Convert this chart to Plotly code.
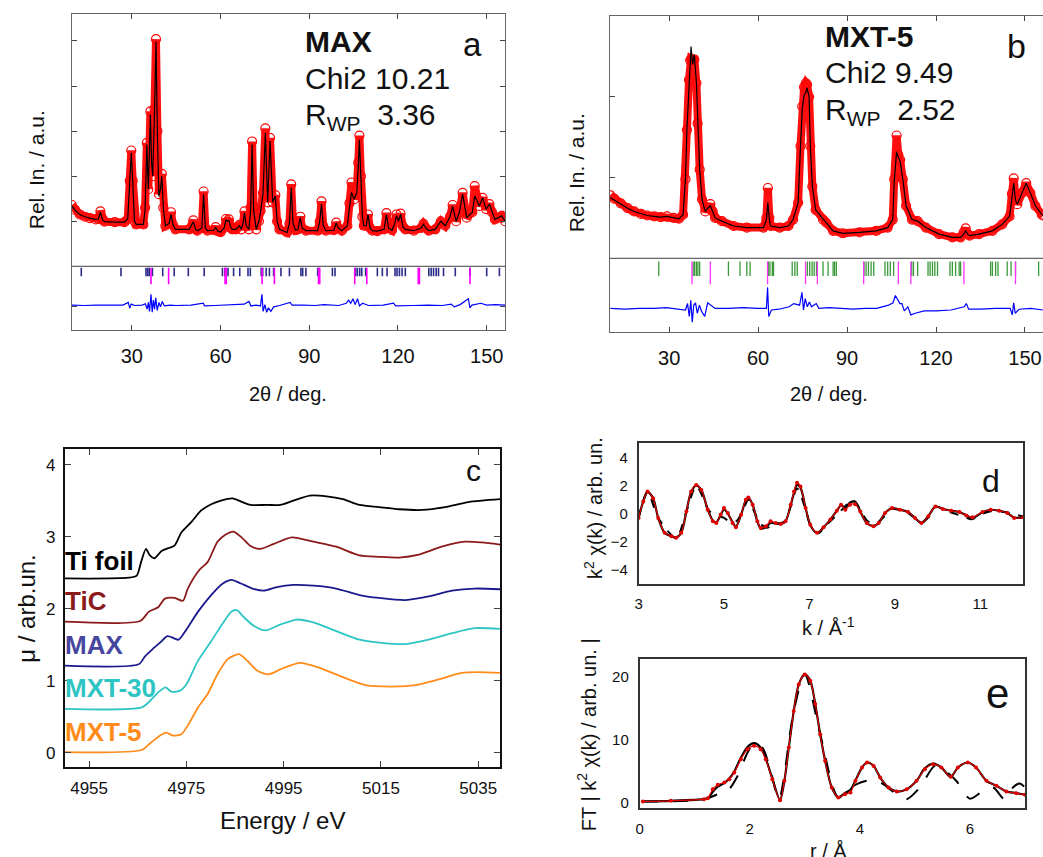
import plotly.graph_objects as go

W, H = 1043, 857
FONT = "Arial, 'Liberation Sans', sans-serif"

# ---------------- Panel a: MAX XRD ----------------
a_2theta = [9.75, 10.84, 12.43, 14.12, 15.81, 17.8, 18.69, 19.39, 20.09, 20.78, 24.26, 27.54, 28.63,
            29.33, 29.83, 30.32, 30.92, 31.52, 33.9, 34.5, 35.09, 35.59, 36.29, 36.69, 37.08, 37.68,
            38.18, 38.67, 39.17, 39.67, 40.16, 40.66, 41.36, 42.65, 43.25, 43.94, 44.74, 49.41, 50.8,
            51.6, 52.19, 53.68, 54.28, 54.88, 55.57, 57.66, 58.35, 59.05, 60.04, 61.24, 61.83, 62.33,
            62.83, 63.52, 64.02, 65.21, 65.81, 66.41, 67.0, 67.6, 68.1, 68.69, 69.59, 70.18, 70.68,
            71.18, 72.07, 72.97, 73.56, 74.36, 75.15, 75.95, 76.74, 77.64, 78.53, 79.13, 79.92, 82.51,
            83.3, 83.9, 84.5, 85.39, 86.19, 86.98, 87.58, 88.87, 92.85, 93.54, 94.14, 94.73, 95.63,
            98.31, 99.11, 99.9, 101.0, 102.89, 103.58, 104.28, 105.17, 106.07, 106.56, 106.96, 107.46,
            107.95, 108.45, 109.25, 109.84, 110.54, 111.33, 113.02, 115.31, 116.1, 116.8, 117.99,
            118.88, 119.48, 120.18, 120.88, 121.67, 122.47, 125.35, 127.83, 128.63, 129.43, 130.42,
            132.6, 134.49, 135.99, 137.58, 138.47, 139.66, 140.76, 141.85, 143.24, 145.13, 145.93,
            146.72, 147.52, 148.61, 149.8, 150.9, 151.79, 152.78, 153.98, 155.08, 156.2]
a_obs = [1.36, 1.25, 1.15, 1.10, 1.07, 1.04, 1.05, 1.22, 1.04, 0.99, 0.98, 0.98, 1.05,
         1.90, 2.57, 1.90, 1.00, 0.93, 0.93, 1.30, 2.74, 1.71, 3.44, 2.30, 2.00, 3.50,
         5.04, 3.00, 1.60, 1.70, 2.05, 1.30, 0.90, 0.95, 1.20, 0.92, 0.82, 0.82, 1.02,
         0.82, 0.79, 0.85, 1.66, 0.85, 0.79, 0.80, 0.87, 0.78, 0.76, 0.85, 1.05, 1.00,
         1.04, 0.85, 0.82, 0.82, 0.88, 0.92, 0.82, 0.95, 1.22, 0.90, 0.82, 1.30, 2.77,
         1.30, 0.82, 1.00, 1.23, 1.63, 3.06, 1.42, 2.85, 1.42, 1.58, 1.00, 0.82, 0.75,
         0.95, 1.82, 0.95, 0.80, 0.82, 1.10, 0.85, 0.79, 0.79, 1.00, 1.44, 0.90, 0.79,
         0.80, 0.97, 0.85, 0.79, 0.90, 1.40, 1.86, 1.49, 1.70, 2.30, 2.90, 2.00,
         1.10, 0.90, 0.90, 1.15, 0.85, 0.79, 0.78, 0.82, 1.18, 0.85, 0.80,
         0.95, 1.15, 1.00, 1.17, 0.88, 0.82, 0.79, 0.85, 0.94, 0.85, 0.79,
         0.82, 1.00, 0.90, 1.10, 1.36, 1.00, 1.20, 1.63, 1.08, 1.20, 1.78,
         1.50, 1.34, 1.52, 1.27, 1.38, 1.20, 1.04, 1.08, 1.12, 1.00]
a_calc = [1.34, 1.24, 1.15, 1.10, 1.07, 1.04, 1.05, 1.20, 1.04, 0.99, 0.98, 0.98, 1.05,
          1.85, 2.52, 1.85, 1.00, 0.93, 0.93, 1.25, 2.70, 1.71, 3.37, 2.30, 2.00, 3.40,
          4.99, 2.90, 1.55, 1.70, 2.00, 1.30, 0.90, 0.95, 1.15, 0.92, 0.82, 0.82, 0.99,
          0.82, 0.79, 0.85, 1.60, 0.85, 0.79, 0.80, 0.86, 0.78, 0.76, 0.85, 1.03, 1.00,
          1.02, 0.85, 0.82, 0.82, 0.87, 0.90, 0.82, 0.95, 1.19, 0.90, 0.82, 1.25, 2.70,
          1.25, 0.82, 1.00, 1.23, 1.60, 2.96, 1.42, 2.78, 1.42, 1.56, 1.00, 0.82, 0.75,
          0.95, 1.74, 0.95, 0.80, 0.82, 1.08, 0.85, 0.79, 0.79, 1.00, 1.38, 0.90, 0.79,
          0.80, 0.96, 0.85, 0.79, 0.90, 1.30, 1.64, 1.49, 1.63, 2.20, 2.81, 1.95,
          1.10, 0.90, 0.90, 1.15, 0.85, 0.79, 0.78, 0.82, 1.15, 0.85, 0.80,
          0.95, 1.12, 1.00, 1.15, 0.88, 0.82, 0.79, 0.85, 0.93, 0.85, 0.79,
          0.82, 1.00, 0.90, 1.10, 1.33, 1.00, 1.20, 1.60, 1.08, 1.20, 1.56,
          1.45, 1.34, 1.52, 1.27, 1.38, 1.20, 1.04, 1.08, 1.12, 1.00]
a_diff_2theta = [9.75, 14, 18, 24, 27, 28.8, 29.3, 29.8, 31, 33.5, 34.6, 35.2, 35.6, 36.0, 36.5, 36.9,
                 37.3, 37.7, 38.1, 38.6, 39.2, 39.7, 40.3, 41, 43, 45, 50, 54.2, 54.6, 58, 62, 65, 68,
                 69.6, 70.3, 72, 73.5, 74.0, 74.4, 75, 75.6, 76.2, 77, 78, 80, 83.5, 84.2, 88, 92, 95,
                 100, 102.5, 103.3, 104, 104.8, 105.5, 106.3, 107, 108, 110, 115, 118.5, 119.2, 125,
                 130, 135, 138, 139, 141, 143.8, 144.3, 145, 148, 150, 153, 156.2]
a_diff = [-0.86, -0.87, -0.86, -0.87, -0.86, -0.80, -0.93, -0.84, -0.87, -0.86, -0.83, -0.95, -0.80,
          -1.00, -0.62, -1.02, -0.75, -0.95, -0.70, -0.98, -0.80, -0.90, -0.78, -0.88, -0.86, -0.87,
          -0.86, -0.82, -0.88, -0.87, -0.86, -0.85, -0.84, -0.78, -0.88, -0.86, -0.88, -0.62, -1.00,
          -0.85, -1.02, -0.92, -1.00, -0.90, -0.87, -0.80, -0.86, -0.86, -0.87, -0.85, -0.87, -0.82,
          -0.75, -0.82, -0.72, -0.85, -0.72, -0.88, -0.82, -0.87, -0.86, -0.82, -0.88, -0.87, -0.86,
          -0.87, -0.84, -0.90, -0.85, -0.72, -0.92, -0.86, -0.82, -0.86, -0.85, -0.86]
a_refl_max = [12.93, 26.35, 34.8, 35.39, 35.89, 36.98, 40.46, 44.34, 49.11, 54.48, 60.64, 61.44, 62.53,
              64.42, 66.5, 69.29, 70.08, 73.76, 74.26, 75.45, 76.54, 77.94, 80.42, 83.3, 87.18, 87.78,
              88.87, 92.85, 93.34, 97.82, 98.71, 105.67, 106.27, 107.06, 107.76, 109.05, 113.02,
              114.71, 116.3, 118.99, 119.68, 120.48, 121.37, 122.47, 130.42, 131.21, 132.01, 132.9,
              133.7, 135.39, 139.37, 144.34, 149.99, 154.28]
a_refl_2 = [36.49, 42.45, 61.54, 61.94, 74.06, 78.23, 93.14, 93.54, 105.37, 109.45, 126.84, 127.24, 144.34]

# ---------------- Panel b: MXT-5 XRD ----------------
b_2theta = [10.2, 11.5, 13.7, 16, 18.2, 20.5, 22.6, 25, 27.1, 29.3, 31.5, 33.3, 34.7, 35.5, 36.0, 36.7,
            37.1, 37.4, 37.9, 38.5, 39.2, 39.6, 40.3, 41.1, 42.2, 43.0, 43.9, 44.7, 45.5, 47.8, 51.7,
            56.2, 61.8, 62.8, 63.3, 63.8, 64.2, 67.3, 70.2, 71.8, 73.5, 74.3, 74.9, 75.5, 76.1, 76.5,
            77.2, 77.6, 78.3, 79.4, 81.9, 83.0, 85.3, 88.6, 94.2, 99.8, 103.7, 105.4, 105.9, 106.7,
            107.3, 107.9, 108.8, 109.9, 111.9, 113.8, 116.6, 121.0, 125.5, 128.3, 129.3, 130.0, 130.7,
            131.3, 134.5, 139.0, 142.3, 144.8, 145.6, 146.2, 146.8, 147.4, 149.0, 150.4, 151.8, 153.5,
            155.7, 156.1]
b_obs = [0.78, 0.74, 0.68, 0.62, 0.58, 0.55, 0.53, 0.52, 0.51, 0.52, 0.50, 0.49, 0.54, 0.98, 1.59, 2.21,
         2.45, 2.47, 2.46, 2.46, 2.17, 1.67, 1.10, 0.73, 0.58, 0.62, 0.67, 0.58, 0.50, 0.46, 0.40,
         0.38, 0.38, 0.50, 0.87, 0.50, 0.40, 0.38, 0.40, 0.48, 0.69, 1.39, 1.88, 2.12, 2.17, 2.15,
         2.00, 1.39, 0.89, 0.60, 0.48, 0.44, 0.34, 0.31, 0.32, 0.34, 0.38, 0.48, 0.98, 1.52,
         1.28, 1.22, 0.98, 0.65, 0.48, 0.46, 0.38, 0.30, 0.26, 0.26, 0.32, 0.37, 0.30,
         0.28, 0.30, 0.34, 0.42, 0.52, 0.80, 0.99, 0.75, 0.67, 0.81, 0.93, 0.81, 0.65,
         0.54, 0.53]
b_calc = [0.75, 0.72, 0.67, 0.62, 0.58, 0.55, 0.53, 0.52, 0.51, 0.52, 0.50, 0.49, 0.54, 0.98, 1.59, 2.21,
          2.45, 2.62, 2.40, 2.52, 2.17, 1.67, 1.10, 0.73, 0.58, 0.62, 0.65, 0.58, 0.50, 0.46, 0.40,
          0.38, 0.38, 0.48, 0.69, 0.48, 0.40, 0.38, 0.40, 0.48, 0.69, 1.39, 1.85, 2.02, 2.05, 2.11,
          2.00, 1.39, 0.89, 0.60, 0.48, 0.44, 0.34, 0.31, 0.32, 0.34, 0.38, 0.48, 0.95, 1.32,
          1.25, 1.20, 0.98, 0.65, 0.48, 0.46, 0.38, 0.30, 0.26, 0.26, 0.30, 0.34, 0.30,
          0.28, 0.30, 0.34, 0.42, 0.52, 0.75, 0.93, 0.72, 0.67, 0.81, 0.93, 0.81, 0.65,
          0.54, 0.53]
b_diff_2theta = [10.2, 15, 20, 25, 29, 33, 35.5, 36.2, 36.8, 37.3, 37.8, 38.3, 38.9, 39.5, 40.2, 41, 42,
                 43, 44.2, 45.5, 50, 55, 60, 62.8, 63.2, 63.6, 64.5, 67, 70.5, 72, 74, 74.8, 75.3, 75.9,
                 76.6, 77.3, 78, 79.6, 80.5, 84, 88, 92, 96, 100, 104, 105.5, 106.3, 107.0, 107.8,
                 108.5, 109.3, 110.5, 111.5, 113, 116, 120, 125, 129.5, 130.2, 131, 135, 140, 145,
                 145.7, 146.2, 146.7, 148, 152, 156.1]
b_diff = [-0.62, -0.63, -0.62, -0.62, -0.61, -0.63, -0.64, -0.56, -0.72, -0.52, -0.79, -0.58, -0.55,
          -0.68, -0.58, -0.66, -0.72, -0.55, -0.58, -0.62, -0.62, -0.61, -0.62, -0.62, -0.36, -0.72,
          -0.64, -0.63, -0.60, -0.56, -0.58, -0.42, -0.64, -0.50, -0.60, -0.54, -0.60, -0.56, -0.62,
          -0.61, -0.62, -0.63, -0.62, -0.62, -0.58, -0.55, -0.46, -0.50, -0.56, -0.56, -0.65, -0.60,
          -0.70, -0.68, -0.65, -0.65, -0.64, -0.60, -0.56, -0.63, -0.63, -0.62, -0.62, -0.70, -0.55,
          -0.68, -0.63, -0.62, -0.64]
b_refl_1 = [26.5, 38.1, 38.6, 39.2, 39.7, 40.3, 50.0, 53.9, 56.2, 57.3, 63.5, 64.0, 64.8, 65.2, 71.5,
            72.4, 73.2, 76.6, 77.4, 78.2, 78.9, 79.7, 81.9, 83.6, 85.3, 85.8, 86.4, 95.7, 96.4, 97.2,
            98.1, 99.0, 102.8, 103.7, 104.6, 105.7, 111.8, 112.4, 113.8, 117.3, 118.0, 118.8, 119.6,
            120.5, 124.7, 125.5, 126.6, 127.8, 128.3, 138.4, 139.0, 140.1, 140.9, 144.0, 145.3,
            146.8, 154.6]
b_refl_2 = [37.7, 43.9, 63.2, 76.0, 80.0, 95.6, 107.3, 111.5, 129.4, 146.8]

# ---------------- Panel c: XANES ----------------
c_energy_ti = [4950.0, 4963.1, 4964.8, 4965.7, 4966.7, 4967.5, 4968.4, 4969.9, 4971.3, 4972.6, 4974.0,
               4976.0, 4978.0, 4980.1, 4982.1, 4984.5, 4986.5, 4988.2, 4991.6, 4994.3, 4997.0, 5000.4,
               5003.8, 5007.2, 5010.6, 5014.6, 5018.7, 5023.5, 5028.2, 5033.0, 5039.5]
c_mu_ti = [2.42, 2.43, 2.46, 2.65, 2.83, 2.74, 2.70, 2.80, 2.84, 2.88, 3.06, 3.20, 3.36, 3.45, 3.50,
           3.53, 3.48, 3.44, 3.44, 3.44, 3.50, 3.57, 3.56, 3.52, 3.44, 3.41, 3.38, 3.37, 3.41, 3.48, 3.52]
c_energy_tic = [4950.0, 4965.5, 4967.3, 4969.2, 4970.6, 4972.6, 4974.3, 4975.3, 4977.7, 4979.4, 4981.4,
                4983.1, 4984.7, 4986.5, 4988.2, 4990.2, 4993.0, 4996.7, 5001.1, 5005.8, 5010.6, 5014.6,
                5018.7, 5022.8, 5027.5, 5032.3, 5035.7, 5039.5]
c_mu_tic = [1.82, 1.83, 1.96, 2.02, 2.14, 2.15, 2.11, 2.28, 2.54, 2.65, 2.93, 3.03, 3.07, 2.98, 2.87,
            2.83, 2.90, 2.99, 2.93, 2.86, 2.74, 2.72, 2.71, 2.75, 2.86, 2.93, 2.92, 2.89]
c_energy_max = [4950.0, 4965.2, 4966.5, 4967.9, 4969.6, 4971.1, 4972.5, 4973.4, 4975.0, 4977.4, 4980.1,
                4982.5, 4984.3, 4986.2, 4988.6, 4990.9, 4993.6, 4997.0, 5001.1, 5005.8, 5010.6, 5014.6,
                5020.1, 5024.8, 5029.6, 5034.3, 5039.5]
c_mu_max = [1.21, 1.23, 1.34, 1.43, 1.53, 1.62, 1.59, 1.57, 1.71, 1.96, 2.19, 2.35, 2.40, 2.35, 2.28,
            2.25, 2.30, 2.33, 2.32, 2.28, 2.19, 2.15, 2.12, 2.17, 2.25, 2.28, 2.27]
c_energy_mxt30 = [4950.0, 4965.8, 4967.5, 4969.2, 4970.7, 4971.9, 4973.6, 4975.0, 4977.4, 4980.1, 4982.8,
                  4984.3, 4985.4, 4986.7, 4988.9, 4991.3, 4994.3, 4997.7, 5001.1, 5005.8, 5010.6, 5014.6,
                  5020.1, 5024.8, 5029.6, 5034.3, 5039.5]
c_mu_mxt30 = [0.61, 0.63, 0.72, 0.84, 0.91, 0.85, 0.86, 0.95, 1.28, 1.55, 1.83, 1.96, 1.98, 1.89, 1.76,
              1.70, 1.78, 1.85, 1.81, 1.69, 1.57, 1.53, 1.51, 1.57, 1.66, 1.73, 1.72]
c_energy_mxt5 = [4950.0, 4965.8, 4967.5, 4969.6, 4970.9, 4972.2, 4974.0, 4975.3, 4977.4, 4979.4, 4981.4,
                 4983.5, 4985.8, 4987.5, 4989.6, 4991.9, 4995.0, 4998.4, 5002.4, 5007.2, 5011.9, 5017.4,
                 5022.1, 5026.9, 5031.6, 5035.0, 5039.5]
c_mu_mxt5 = [0.01, 0.04, 0.13, 0.24, 0.28, 0.24, 0.26, 0.38, 0.63, 0.82, 1.09, 1.30, 1.37, 1.28, 1.14,
             1.09, 1.18, 1.25, 1.18, 1.05, 0.94, 0.92, 0.94, 1.02, 1.11, 1.12, 1.11]

# ---------------- Panel d: EXAFS k-space ----------------
d_k = [3.0, 3.11, 3.21, 3.34, 3.46, 3.61, 3.77, 3.88, 4.0, 4.12, 4.23, 4.35, 4.47, 4.62, 4.74, 4.82, 4.92,
       5.0, 5.09, 5.2, 5.28, 5.4, 5.51, 5.57, 5.67, 5.78, 5.86, 5.98, 6.09, 6.21, 6.33, 6.44, 6.56, 6.64,
       6.71, 6.79, 6.91, 7.02, 7.18, 7.33, 7.49, 7.64, 7.74, 7.84, 7.95, 8.07, 8.19, 8.34, 8.5, 8.62,
       8.77, 8.93, 9.12, 9.31, 9.47, 9.62, 9.78, 9.95, 10.12, 10.32, 10.51, 10.67, 10.82, 11.05, 11.24,
       11.44, 11.63, 11.79, 12.0]
d_chi = [-0.31, 0.87, 1.58, 1.10, -0.30, -1.36, -1.60, -1.72, -1.36, 0.16, 1.58, 2.05, 1.69, 0.28, -0.54,
         -0.66, -0.07, 0.40, 0.05, -0.66, -0.96, -0.07, 0.99, 1.15, 0.64, -0.54, -1.01, -0.89, -0.54,
         -0.66, -0.73, -0.54, 0.64, 1.58, 2.21, 1.93, 0.40, -0.78, -1.36, -0.96, -0.42, 0.21, 0.64,
         0.28, 0.64, 0.68, 0.16, -0.66, -0.89, -0.66, 0.05, 0.40, 0.28, 0.12, -0.31, -0.66, -0.19,
         0.52, 0.33, 0.21, 0.12, -0.12, -0.26, 0.12, 0.28, 0.21, 0.05, -0.31, -0.26]
d_chi_fit = [-0.31, 0.87, 1.55, 1.10, -0.30, -1.36, -1.62, -1.70, -1.36, 0.16, 1.55, 2.02, 1.69, 0.28, -0.50,
             -0.62, -0.10, 0.30, 0.00, -0.62, -0.92, -0.07, 0.95, 1.12, 0.64, -0.54, -1.05, -0.95, -0.65,
             -0.70, -0.73, -0.54, 0.60, 1.50, 2.05, 1.85, 0.40, -0.80, -1.38, -0.96, -0.42, 0.21, 0.60,
             0.45, 0.80, 0.85, 0.16, -0.66, -0.89, -0.66, 0.05, 0.40, 0.28, 0.12, -0.31, -0.66, -0.19,
             0.52, 0.33, 0.21, 0.12, -0.12, -0.30, 0.10, 0.28, 0.21, 0.05, -0.28, -0.26]
d_k_alt = [3.0, 3.21, 3.46, 3.88, 4.12, 4.35, 4.5, 4.65, 4.85, 5.0, 5.15, 5.3, 5.45, 5.57, 5.7, 5.85, 6.0,
           6.2, 6.4, 6.56, 6.71, 6.9, 7.02, 7.2, 7.4, 7.6, 7.8, 8.0, 8.15, 8.35, 8.55, 8.75, 8.93, 9.12,
           9.3, 9.47, 9.62, 9.8, 9.95, 10.3, 10.6, 10.8, 11.05, 11.3, 11.6, 12.0]
d_chi_alt = [-0.30, 1.55, -0.30, -1.72, 0.16, 2.00, 1.20, 0.20, -0.10, -0.30, -0.60, -0.50, 0.30, 1.00,
             0.20, -0.70, -1.00, -0.70, -0.60, 0.50, 1.80, 0.40, -0.80, -1.40, -0.80, -0.20, 0.40, 1.00,
             0.50, -0.50, -0.70, -0.20, 0.35, 0.25, 0.05, -0.30, -0.65, -0.20, 0.50, 0.10, -0.20, -0.40,
             0.00, 0.20, 0.10, -0.20]

# ---------------- Panel e: EXAFS r-space ----------------
e_r = [0.06, 0.57, 1.17, 1.24, 1.33, 1.42, 1.54, 1.63, 1.72, 1.84, 1.96, 2.08, 2.2, 2.29, 2.41, 2.55,
       2.63, 2.71, 2.8, 2.89, 3.0, 3.1, 3.19, 3.28, 3.37, 3.49, 3.61, 3.73, 3.83, 3.92, 4.04, 4.13, 4.25,
       4.37, 4.52, 4.67, 4.85, 5.03, 5.18, 5.33, 5.48, 5.65, 5.78, 5.96, 6.11, 6.3, 6.48, 6.66, 6.84, 7.0]
e_ft = [0.26, 0.37, 0.63, 0.79, 2.2, 2.9, 3.27, 3.8, 4.85, 6.97, 8.55, 9.08, 8.55, 6.97, 3.8, 0.47,
        3.54, 8.8, 14.6, 18.8, 20.4, 19.4, 15.7, 10.9, 6.7, 2.48, 0.9, 1.42, 1.7, 3.54, 5.65, 6.44, 5.9,
        4.06, 2.48, 1.85, 2.2, 3.54, 5.38, 6.17, 5.65, 4.17, 5.65, 6.44, 5.65, 3.54, 2.74, 1.85, 1.58, 1.32]
e_ft_fit = [0.26, 0.37, 0.63, 0.79, 1.8, 2.6, 3.2, 3.9, 5.0, 7.2, 8.9, 9.5, 8.8, 7.1, 3.9, 0.5,
            3.54, 8.8, 14.6, 18.8, 20.4, 19.4, 15.7, 10.9, 6.7, 2.48, 0.9, 1.6, 2.1, 3.6, 5.65, 6.44, 5.9,
            4.06, 2.48, 1.85, 2.2, 3.54, 5.5, 6.25, 5.65, 4.17, 5.65, 6.44, 5.65, 3.54, 2.74, 1.85, 1.58, 1.32]
e_r_alt = [0.06, 1.17, 1.42, 1.6, 1.78, 1.96, 2.08, 2.23, 2.38, 2.53, 2.8, 3.0, 3.28, 3.61, 3.83, 4.13,
           4.37, 4.67, 4.85, 5.09, 5.36, 5.51, 5.75, 6.0, 6.24, 6.42, 6.63, 6.78, 6.9, 7.0]
e_ft_alt = [0.26, 0.6, 1.4, 1.95, 4.3, 8.0, 9.45, 8.8, 5.1, 0.63, 14.6, 20.4, 10.9, 0.9, 2.48, 3.54,
            3.27, 1.42, 0.63, 2.48, 5.9, 5.38, 3.54, 0.7, 1.95, 2.48, 0.6, 2.48, 3.1, 2.48]


def px_x(px):
    return px / W


def px_y(py):
    return 1 - py / H


def sticks(pos, y0, y1):
    xs, ys = [], []
    for p in pos:
        xs += [p, p, None]
        ys += [y0, y1, None]
    return xs, ys


fig = go.Figure()

# --- panel a traces
fig.add_trace(go.Scatter(x=a_2theta, y=a_obs, mode="lines+markers", xaxis="x", yaxis="y",
                         line=dict(color="#ff1010", width=8),
                         marker=dict(symbol="circle-open", size=9, color="#ff0000", line=dict(width=1.2))))
fig.add_trace(go.Scatter(x=a_2theta, y=a_calc, mode="lines", xaxis="x", yaxis="y",
                         line=dict(color="black", width=1.2)))
xs, ys = sticks(a_refl_max, -0.03, -0.22)
fig.add_trace(go.Scatter(x=xs, y=ys, mode="lines", xaxis="x", yaxis="y",
                         line=dict(color="#2c2c8c", width=1.6)))
xs, ys = sticks(a_refl_2, -0.03, -0.40)
fig.add_trace(go.Scatter(x=xs, y=ys, mode="lines", xaxis="x", yaxis="y",
                         line=dict(color="#ff00ff", width=1.6)))
fig.add_trace(go.Scatter(x=a_diff_2theta, y=a_diff, mode="lines", xaxis="x", yaxis="y",
                         line=dict(color="#0000ff", width=1.2)))

# --- panel b traces
fig.add_trace(go.Scatter(x=b_2theta, y=b_obs, mode="lines+markers", xaxis="x2", yaxis="y2",
                         line=dict(color="#ff1010", width=8),
                         marker=dict(symbol="circle-open", size=9, color="#ff0000", line=dict(width=1.2))))
fig.add_trace(go.Scatter(x=b_2theta, y=b_calc, mode="lines", xaxis="x2", yaxis="y2",
                         line=dict(color="black", width=1.2)))
xs, ys = sticks(b_refl_1, -0.04, -0.22)
fig.add_trace(go.Scatter(x=xs, y=ys, mode="lines", xaxis="x2", yaxis="y2",
                         line=dict(color="#3a9a3a", width=1.3)))
xs, ys = sticks(b_refl_2, -0.04, -0.32)
fig.add_trace(go.Scatter(x=xs, y=ys, mode="lines", xaxis="x2", yaxis="y2",
                         line=dict(color="#ff33ff", width=1.3)))
fig.add_trace(go.Scatter(x=b_diff_2theta, y=b_diff, mode="lines", xaxis="x2", yaxis="y2",
                         line=dict(color="#0000ff", width=1.2)))

# --- panel c traces
c_series = [
    (c_energy_ti, c_mu_ti, "#000000"),
    (c_energy_tic, c_mu_tic, "#8b1a1a"),
    (c_energy_max, c_mu_max, "#1a1a8c"),
    (c_energy_mxt30, c_mu_mxt30, "#2ec4c4"),
    (c_energy_mxt5, c_mu_mxt5, "#ff8c1a"),
]
for ex, mu, col in c_series:
    fig.add_trace(go.Scatter(x=ex, y=mu, mode="lines", xaxis="x3", yaxis="y3",
                             line=dict(color=col, width=1.8, shape="spline", smoothing=0.7)))

# --- panel d traces
fig.add_trace(go.Scatter(x=d_k_alt, y=d_chi_alt, mode="lines", xaxis="x4", yaxis="y4",
                         line=dict(color="black", width=2, dash="dash", shape="spline", smoothing=0.8)))
fig.add_trace(go.Scatter(x=d_k, y=d_chi_fit, mode="lines", xaxis="x4", yaxis="y4",
                         line=dict(color="black", width=2.2, shape="spline", smoothing=0.8)))
fig.add_trace(go.Scatter(x=d_k, y=d_chi, mode="lines+markers", xaxis="x4", yaxis="y4",
                         line=dict(color="#e00000", width=1.2, shape="spline", smoothing=0.8),
                         marker=dict(size=4, color="#e00000")))

# --- panel e traces
fig.add_trace(go.Scatter(x=e_r_alt, y=e_ft_alt, mode="lines", xaxis="x5", yaxis="y5",
                         line=dict(color="black", width=2, dash="longdash", shape="spline", smoothing=0.8)))
fig.add_trace(go.Scatter(x=e_r, y=e_ft_fit, mode="lines", xaxis="x5", yaxis="y5",
                         line=dict(color="black", width=2.2, shape="spline", smoothing=0.8)))
fig.add_trace(go.Scatter(x=e_r, y=e_ft, mode="lines+markers", xaxis="x5", yaxis="y5",
                         line=dict(color="#e00000", width=1.2, shape="spline", smoothing=0.8),
                         marker=dict(size=4, color="#e00000")))


def ax(domain, rng, anchor, **kw):
    d = dict(domain=domain, range=rng, anchor=anchor, showgrid=False, zeroline=False,
             showline=True, ticks="inside", tickcolor="#444")
    d.update(kw)
    return d


xa_dom = [px_x(68), px_x(503)]
ya_dom = [px_y(331), px_y(14)]
xb_dom = [px_x(608), 1.0]
yb_dom = [px_y(333), px_y(16)]
xc_dom = [px_x(61), px_x(498)]
yc_dom = [px_y(770), px_y(451)]
xd_dom = [px_x(637), px_x(1023)]
yd_dom = [px_y(586), px_y(445)]
xe_dom = [px_x(638), px_x(1025)]
ye_dom = [px_y(811), px_y(661)]

tf20 = dict(family=FONT, size=20, color="#111")
tf17 = dict(family=FONT, size=17, color="#111")
tf15 = dict(family=FONT, size=15, color="#111")

fig.update_layout(
    width=W, height=H, margin=dict(l=0, r=0, t=0, b=0),
    paper_bgcolor="white", plot_bgcolor="white", showlegend=False,
    xaxis=ax(xa_dom, [9.7, 156.2], "y", tickvals=[30, 60, 90, 120, 150], tickfont=tf20,
             linecolor="#666", linewidth=1.2, mirror="ticks", ticklen=5, ticklabelstandoff=8),
    yaxis=ax(ya_dom, [-1.41, 5.6], "x", tickvals=[-0.9, 1, 2, 3, 4, 5], showticklabels=False,
             linecolor="#666", linewidth=1.2, mirror="ticks", ticklen=5),
    xaxis2=ax(xb_dom, [9.95, 156.07], "y2", tickvals=[30, 60, 90, 120, 150], tickfont=tf20,
              linecolor="#666", linewidth=1.2, mirror="ticks", ticklen=5, ticklabelstandoff=8),
    yaxis2=ax(yb_dom, [-0.91, 3.0], "x2", tickvals=[1, 2], showticklabels=False,
              linecolor="#666", linewidth=1.2, mirror=False, ticklen=5),
    xaxis3=ax(xc_dom, [4950, 5039.5], "y3", tickvals=[4955, 4975, 4995, 5015, 5035], tickfont=tf17,
              linecolor="#111", linewidth=2, mirror="ticks", ticklen=6, ticklabelstandoff=4),
    yaxis3=ax(yc_dom, [-0.2, 4.21], "x3", tickvals=[0, 1, 2, 3, 4], tickfont=tf17,
              linecolor="#111", linewidth=2, mirror="ticks", ticklen=6, ticklabelstandoff=4),
    xaxis4=ax(xd_dom, [3, 12], "y4", tickvals=[3, 5, 7, 9, 11], tickfont=tf15,
              linecolor="#333", linewidth=1.5, mirror=True, ticks="", ticklabelstandoff=5),
    yaxis4=ax(yd_dom, [-5, 5], "x4", tickvals=[-4, -2, 0, 2, 4], tickfont=tf15,
              linecolor="#333", linewidth=1.5, mirror=True, ticks="", ticklabelstandoff=6),
    xaxis5=ax(xe_dom, [0, 7], "y5", tickvals=[0, 2, 4, 6], tickfont=tf15,
              linecolor="#333", linewidth=1.5, mirror=True, ticks="", ticklabelstandoff=6),
    yaxis5=ax(ye_dom, [-0.8, 22.9], "x5", tickvals=[0, 10, 20], tickfont=tf15,
              linecolor="#333", linewidth=1.5, mirror=True, ticks="", ticklabelstandoff=6),
)

# divider lines between pattern and reflection/difference sections
for xr, yr in [("x", "y"), ("x2", "y2")]:
    fig.add_shape(type="line", xref=xr + " domain", x0=0, x1=1, yref=yr, y0=0, y1=0,
                  line=dict(color="#666", width=1.2))


def note(text, px, py, size, color="#111", bold=False, xanchor="left", angle=0):
    if bold:
        text = "<b>" + text + "</b>"
    fig.add_annotation(text=text, x=px_x(px), y=px_y(py), xref="paper", yref="paper",
                       xanchor=xanchor, yanchor="middle", showarrow=False, textangle=angle,
                       font=dict(family=FONT, size=size, color=color))


# panel a texts
note("MAX", 300, 42, 30, bold=True)
note("Chi2 10.21", 300, 79, 30)
note("R<sub>WP</sub>  3.36", 300, 117, 30)
note("a", 470, 45, 33, xanchor="center")
note("2θ / deg.", 285, 395, 20, xanchor="center")
note("Rel. In. / a.u.", 33, 170, 21, xanchor="center", angle=-90)

# panel b texts
note("MXT-5", 822, 37, 30, bold=True)
note("Chi2 9.49", 822, 73, 30)
note("R<sub>WP</sub>  2.52", 822, 112, 30)
note("b", 1016, 46, 34, xanchor="center")
note("2θ / deg.", 828, 395, 20, xanchor="center")
note("Rel. In. / a.u.", 575, 173, 21, xanchor="center", angle=-90)

# panel c texts
note("Ti foil", 59, 563, 26, color="#000000", bold=True)
note("TiC", 59, 603, 26, color="#8b1a1a", bold=True)
note("MAX", 59, 647, 26, color="#4646a0", bold=True)
note("MXT-30", 59, 690, 26, color="#2ec4c4", bold=True)
note("MXT-5", 59, 735, 26, color="#ff8c1a", bold=True)
note("c", 471, 472, 30, xanchor="center")
note("Energy / eV", 280, 823, 24, xanchor="center")
note("μ / arb.un.", 23, 610, 24, xanchor="center", angle=-90)

# panel d texts
note("d", 991, 483, 32, xanchor="center")
note("k / Å<sup>-1</sup>", 828, 629, 20, xanchor="center")
note("k<sup>2</sup> χ(k) / arb. un.", 591, 510, 20, xanchor="center", angle=-90)

# panel e texts
note("e", 997, 696, 42, xanchor="center")
note("r / Å", 828, 854, 20, xanchor="center")
note("FT | k<sup>2</sup> χ(k) / arb. un. |", 585, 737, 20, xanchor="center", angle=-90)

fig.write_html("out.html", config={"displayModeBar": False},
               post_script="document.body.style.margin='0px';document.body.style.overflow='hidden';")
